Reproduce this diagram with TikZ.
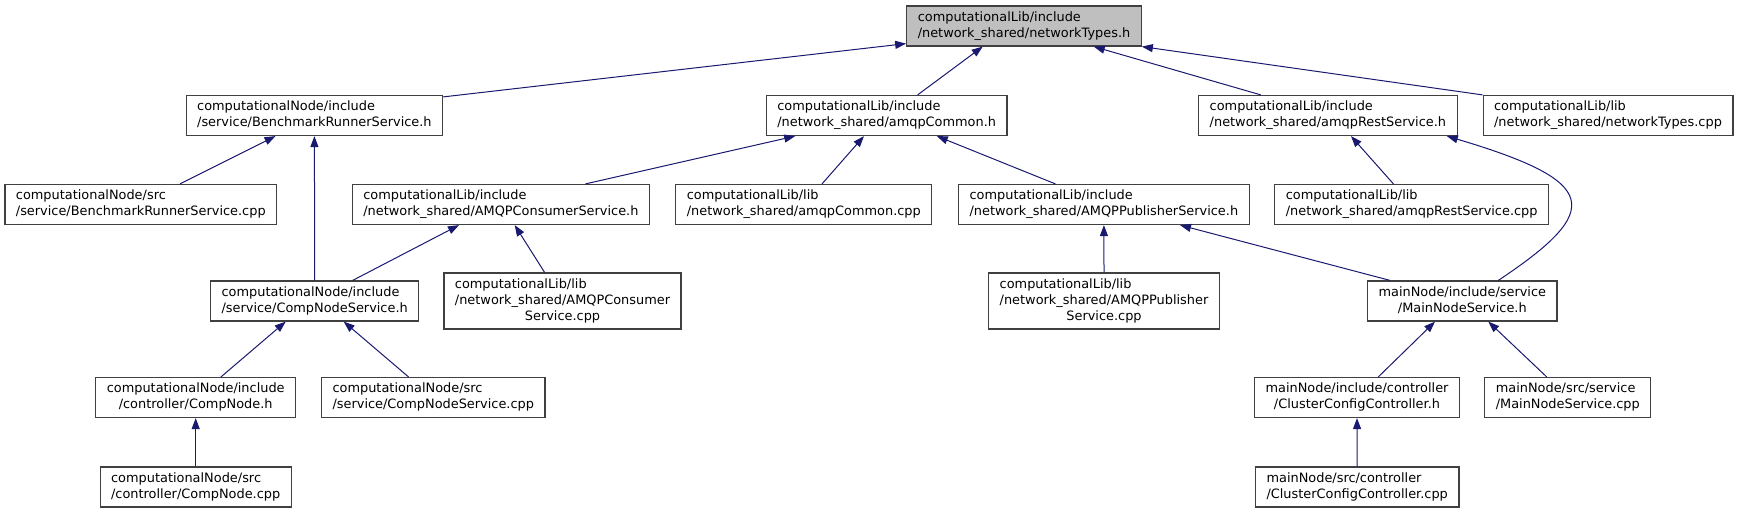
\documentclass[tikz,border=0pt]{standalone}
\usepackage{fontspec}
\setmainfont{DejaVu Sans}
\usepackage{tikz}
\usetikzlibrary{arrows.meta}
\definecolor{edgeblue}{HTML}{191970}
\definecolor{rootgray}{HTML}{BFBFBF}
\newcommand{\flab}[2]{\begin{tabular}{@{}l@{}}#1\\\multicolumn{1}{@{}c@{}}{#2}\end{tabular}}
\newcommand{\flabb}[3]{\begin{tabular}{@{}l@{}}#1\\#2\\\multicolumn{1}{@{}c@{}}{#3}\end{tabular}}

\begin{document}
\begin{tikzpicture}[x=1pt,y=-1pt,
  box/.style={draw=black!75,fill=white,line width=1.2pt,inner xsep=11pt,inner ysep=4pt,
    font=\fontsize{12.9}{16}\selectfont},
  dep/.style={draw=edgeblue,line width=1pt,-{Triangle[length=11pt,width=8pt]}}]
  \useasboundingbox (0,0) rectangle (1739,513);
  % row 0
  \node[box,fill=rootgray] (nt) at (1024,26) {\flab{computationalLib/include}{/network\_shared/networkTypes.h}};
  % row 1
  \node[box] (brs) at (314.4,115.5) {\flab{computationalNode/include}{/service/BenchmarkRunnerService.h}};
  \node[box] (ac) at (886.7,115.5) {\flab{computationalLib/include}{/network\_shared/amqpCommon.h}};
  \node[box] (ars) at (1327.9,115.5) {\flab{computationalLib/include}{/network\_shared/amqpRestService.h}};
  \node[box] (ntc) at (1608,115.5) {\flab{computationalLib/lib}{/network\_shared/networkTypes.cpp}};
  % row 2
  \node[box] (brsc) at (140.8,204.5) {\flab{computationalNode/src}{/service/BenchmarkRunnerService.cpp}};
  \node[box] (acs) at (500.9,204.5) {\flab{computationalLib/include}{/network\_shared/AMQPConsumerService.h}};
  \node[box] (acc) at (803.8,204.5) {\flab{computationalLib/lib}{/network\_shared/amqpCommon.cpp}};
  \node[box] (aps) at (1103.9,204.5) {\flab{computationalLib/include}{/network\_shared/AMQPPublisherService.h}};
  \node[box] (arsc) at (1411.7,204.5) {\flab{computationalLib/lib}{/network\_shared/amqpRestService.cpp}};
  % row 3
  \node[box] (cns) at (314.7,301) {\flab{computationalNode/include}{/service/CompNodeService.h}};
  \node[box] (acsc) at (562.5,301) {\flabb{computationalLib/lib}{/network\_shared/AMQPConsumer}{Service.cpp}};
  \node[box] (apsc) at (1104,301) {\flabb{computationalLib/lib}{/network\_shared/AMQPPublisher}{Service.cpp}};
  \node[box] (mns) at (1462.3,301) {\flab{mainNode/include/service}{/MainNodeService.h}};
  % row 4
  \node[box] (cn) at (195.7,397.5) {\flab{computationalNode/include}{/controller/CompNode.h}};
  \node[box] (cnsc) at (433.3,397.5) {\flab{computationalNode/src}{/service/CompNodeService.cpp}};
  \node[box] (ccc) at (1357,397.5) {\flab{mainNode/include/controller}{/ClusterConfigController.h}};
  \node[box] (mnsc) at (1567.8,397.5) {\flab{mainNode/src/service}{/MainNodeService.cpp}};
  % row 5
  \node[box] (cnc) at (195.7,487) {\flab{computationalNode/src}{/controller/CompNode.cpp}};
  \node[box] (cccc) at (1357.2,487) {\flab{mainNode/src/controller}{/ClusterConfigController.cpp}};

  % include edges, tip on the included file
  \draw[dep] ([yshift=-2pt]brs.north east) -- ([yshift=3pt]nt.south west);
  \draw[dep] ([xshift=30.9pt]ac.north) -- ([xshift=-41.3pt]nt.south);
  \draw[dep] ([xshift=-67.1pt]ars.north) -- ([xshift=69.7pt]nt.south);
  \draw[dep] (ntc.north west) -- (nt.south east);
  \draw[dep] ([xshift=39.2pt]brsc.north) -- ([xshift=-38.9pt]brs.south);
  \draw[dep] (cns.north) -- (brs.south);
  \draw[dep] ([xshift=84.6pt]acs.north) -- ([xshift=-91.5pt]ac.south);
  \draw[dep] ([xshift=18.2pt]acc.north) -- ([xshift=-22.7pt]ac.south);
  \draw[dep] ([xshift=-48.5pt]aps.north) -- ([xshift=50.1pt]ac.south);
  \draw[dep] ([xshift=38pt]cns.north) -- ([xshift=-41.9pt]acs.south);
  \draw[dep] ([xshift=-17.9pt]acsc.north) -- ([xshift=13.8pt]acs.south);
  \draw[dep] (apsc.north) -- (aps.south);
  \draw[dep] ([xshift=-72.3pt]mns.north) -- ([xshift=76.1pt]aps.south);
  \draw[dep] ([xshift=-18.3pt]arsc.north) -- ([xshift=23.1pt]ars.south);
  \draw[dep] ([xshift=36pt]mns.north) .. controls (1604,210) and (1600,181.6) .. ([xshift=118.9pt]ars.south);
  \draw[dep] ([xshift=25.3pt]cn.north) -- ([xshift=-29pt]cns.south);
  \draw[dep] ([xshift=-24.8pt]cnsc.north) -- ([xshift=29pt]cns.south);
  \draw[dep] (cnc.north) -- (cn.south);
  \draw[dep] ([xshift=21.3pt]ccc.north) -- ([xshift=-27.3pt]mns.south);
  \draw[dep] ([xshift=-21.1pt]mnsc.north) -- ([xshift=26pt]mns.south);
  \draw[dep] (cccc.north) -- (ccc.south);
\end{tikzpicture}
\end{document}
